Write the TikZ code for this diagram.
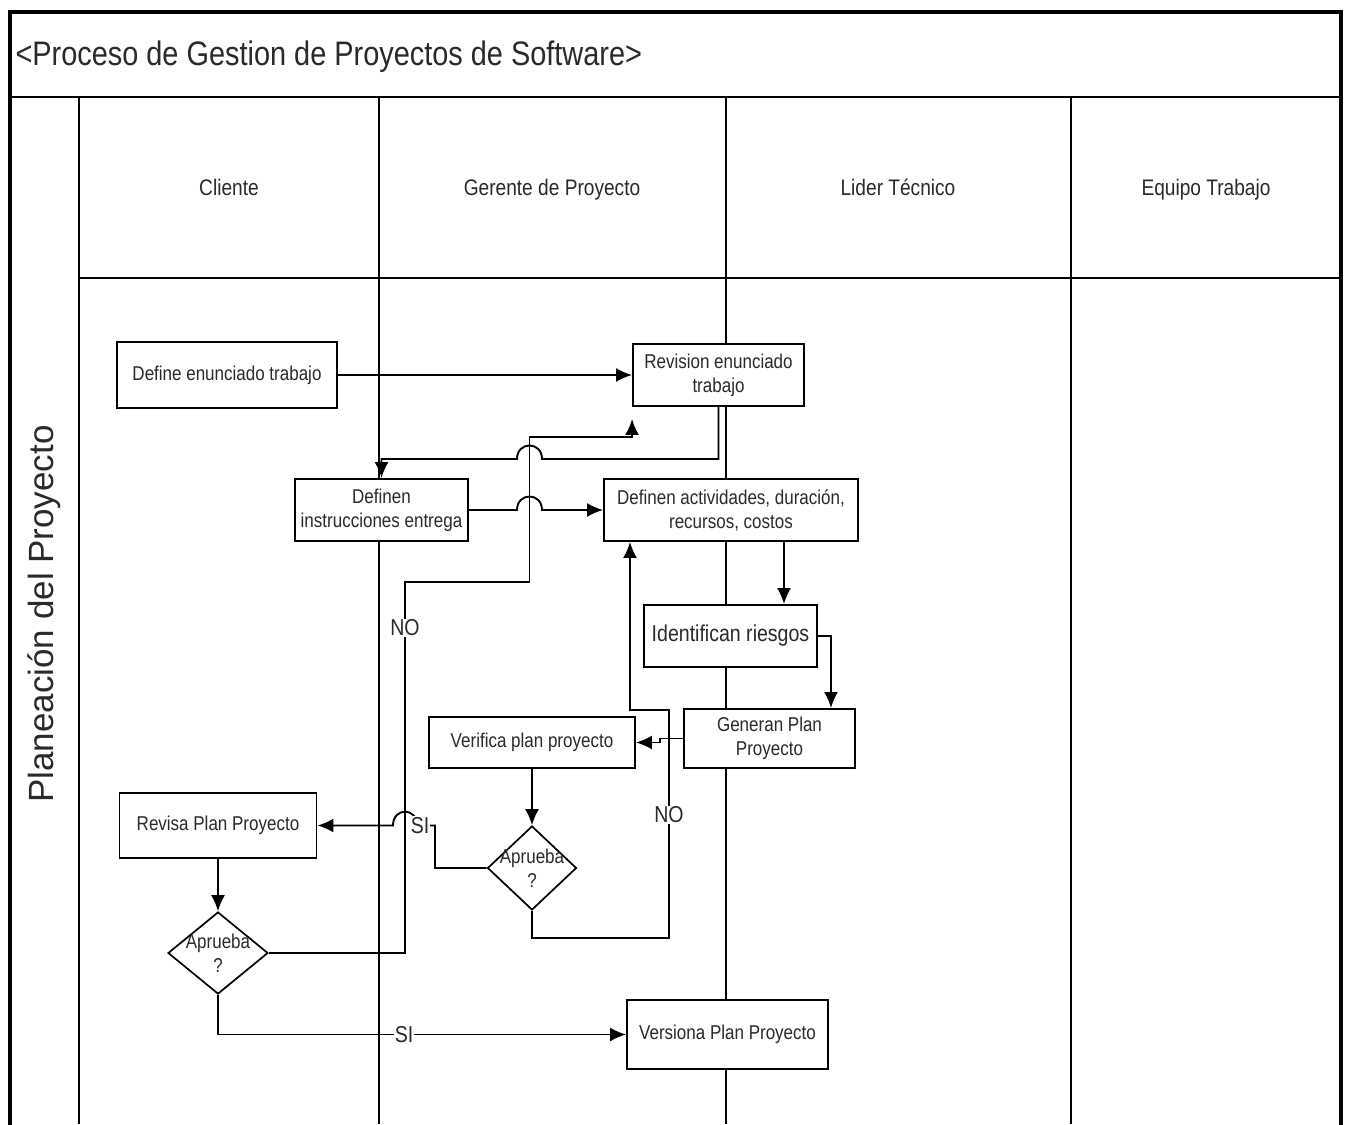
\documentclass[tikz,border=0pt]{standalone}
\usepackage{fontspec}
\setmainfont{Liberation Sans}[FakeStretch=0.85]
\newfontfamily\vfont{Liberation Sans}
\usetikzlibrary{arrows.meta,shapes.geometric}
\definecolor{txt}{HTML}{2A2A2A}
\begin{document}
\begin{tikzpicture}[x=1pt,y=-1pt,
  lane/.style={line width=1.8pt},
  box/.style={draw, fill=white, line width=1.9pt, inner sep=0pt, align=center, text=txt, font=\fontsize{20}{24}\selectfont},
  dia/.style={diamond, draw, fill=white, line width=1.7pt, inner sep=0pt},
  dlbl/.style={align=center, text=txt, font=\fontsize{20}{24}\selectfont},
  conn/.style={line width=1.9pt},
  arr/.style={conn, -{Latex[length=16pt,width=14pt]}},
  lbl/.style={fill=white, inner sep=1pt, text=txt, font=\fontsize{23}{27}\selectfont},
  hdr/.style={anchor=base, text=txt, font=\fontsize{22.5}{27}\selectfont}]

\useasboundingbox (0,0) rectangle (1348,1124);
\fill[white] (0,0) rectangle (1348,1124);

% frame and lanes
\draw[lane] (10,97) -- (1341,97);
\draw[lane] (79,97) -- (79,1124);
\draw[lane] (379,97) -- (379,1124);
\draw[lane] (726,97) -- (726,1124);
\draw[lane] (1071,97) -- (1071,1124);
\draw[lane] (79,278) -- (1341,278);
\draw[line width=3.5pt] (10,1130) -- (10,12) -- (1341,12) -- (1341,1130);

\node[anchor=west, text=txt, font=\fontsize{34}{40}\selectfont] (title) at (12,57) {<Proceso de Gestion de Proyectos de Software>};
\node[hdr] (h1) at (229,195) {Cliente};
\node[hdr] (h2) at (552,195) {Gerente de Proyecto};
\node[hdr] (h3) at (898,195) {Lider Técnico};
\node[hdr] (h4) at (1206,195) {Equipo Trabajo};
\node[rotate=90, text=txt, font=\vfont\fontsize{35}{42}\selectfont] (pool) at (44,614) {Planeación del Proyecto};

% nodes
\node[box, minimum width=220pt, minimum height=66pt] (def) at (227,375) {Define enunciado trabajo};
\node[box, minimum width=171pt, minimum height=62pt] (rev) at (718.5,375) {Revision enunciado\\trabajo};
\node[box, minimum width=173pt, minimum height=62pt] (ins) at (381.5,510) {Definen\\instrucciones entrega};
\node[box, minimum width=254pt, minimum height=62pt] (act) at (731,510) {Definen actividades, duración,\\recursos, costos};
\node[box, minimum width=173pt, minimum height=62pt, font=\fontsize{23}{27}\selectfont] (rie) at (730.5,636) {Identifican riesgos};
\node[box, minimum width=171pt, minimum height=59pt] (gen) at (769.5,738.5) {Generan Plan\\Proyecto};
\node[box, minimum width=206pt, minimum height=51pt] (ver) at (532,742.5) {Verifica plan proyecto};
\node[dia, minimum width=89pt, minimum height=84pt, label={[dlbl]center:Aprueba\\?}] (d1) at (532,868) {};
\node[box, minimum width=197pt, minimum height=65pt] (rpp) at (218,825.5) {Revisa Plan Proyecto};
\node[dia, minimum width=100pt, minimum height=82pt, label={[dlbl]center:Aprueba\\?}] (d2) at (218,953) {};
\node[box, minimum width=201pt, minimum height=69pt] (vpp) at (727.5,1034.5) {Versiona Plan Proyecto};

% connectors
\draw[arr] (def.east) -- (rev.west);
\draw[arr] (rev.south) |- (542,459) .. controls (542,441) and (517,441) .. (517,459) -| (ins.north);
\draw[arr] (ins.east) -- (517,510) .. controls (517,492) and (542,492) .. (542,510) -- (act.west);
\draw[arr] ([xshift=53pt]act.south) -- ([xshift=53pt]act.south |- rie.north);
\draw[arr] (rie.east) -| ([xshift=61.5pt]gen.north);
\draw[arr] (gen.west) -- (660,738.5) |- (ver.east);
\draw[arr] (ver.south) -- (d1.north);
\draw[arr] (d1.south) |- (669,938) -- node[lbl, pos=0.54] {NO} (669,710) -| ([xshift=-101pt]act.south);
\draw[arr] (d1.west) -| (435,825.5) -- (417,825.5) .. controls (417,807) and (393,807) .. (393,825.5) -- (rpp.east)
  node[lbl] at (420,825.5) {SI};
\draw[arr] (rpp.south) -- (d2.north);
\draw[arr] (d2.east) -- (405,953) -- node[lbl, pos=0.876] {NO} (405,582) -- (529.5,582) -- (529.5,437) -| ([yshift=-12pt]rev.south west);
\draw[arr] (d2.south) |- node[lbl, pos=0.728] {SI} (vpp.west);
\end{tikzpicture}
\end{document}
